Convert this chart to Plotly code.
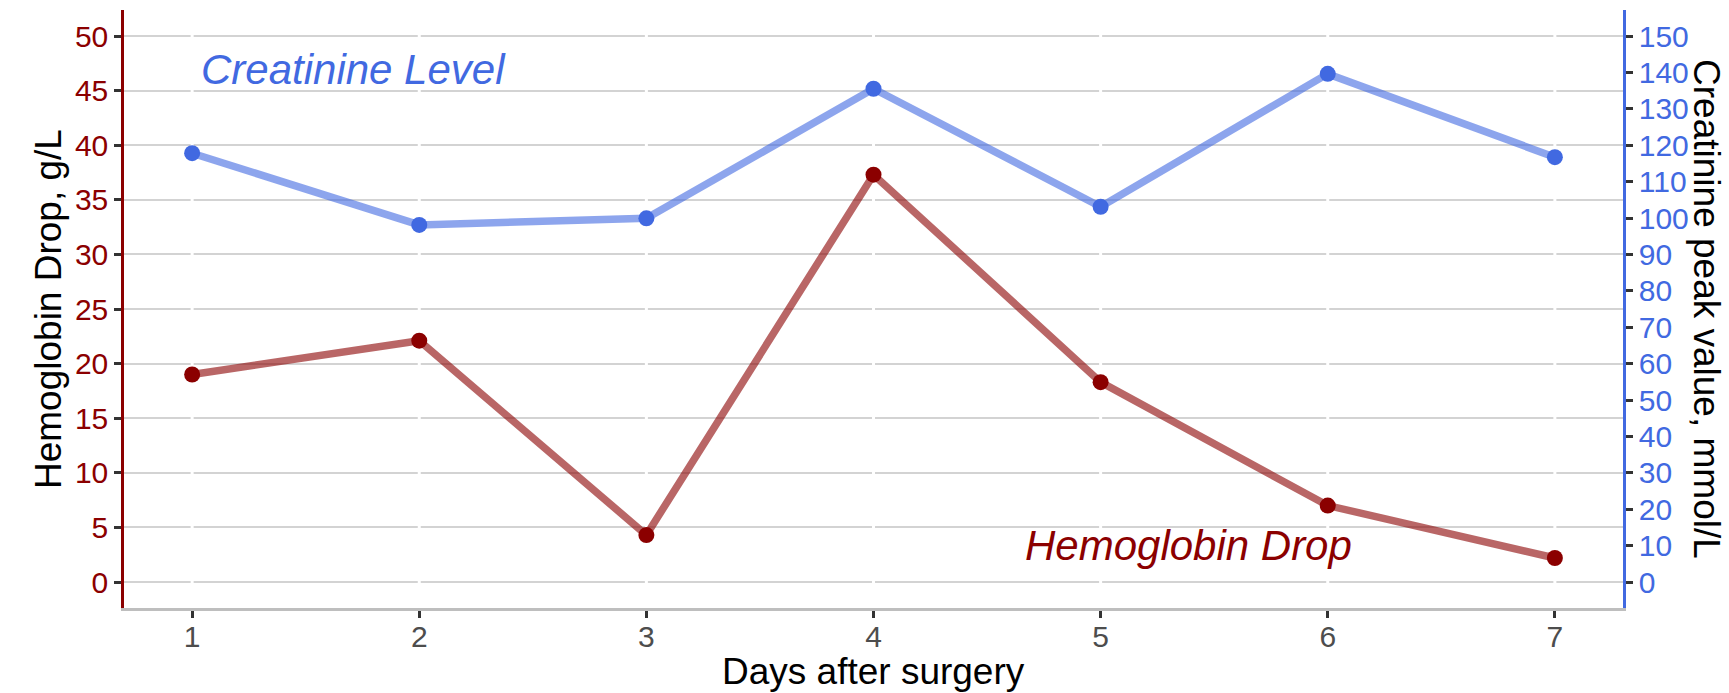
import plotly.graph_objects as go

days = [1, 2, 3, 4, 5, 6, 7]
hemoglobin_drop = [19.0, 22.1, 4.3, 37.3, 18.3, 7.0, 2.2]
creatinine_peak = [117.8, 98.1, 99.9, 135.5, 103.1, 139.6, 116.7]

left_ticks = list(range(0, 51, 5))
right_ticks = list(range(0, 151, 10))

y_range = [-2.381, 52.381]
y2_range = [-7.143, 157.143]
x_range = [0.7, 7.3]

RED = "#8B0000"
BLUE = "#4169E1"
FONT = "Liberation Sans, Arial, sans-serif"

fig = go.Figure()

vx, vy = [], []
for d in days:
    vx += [d, d, None]
    vy += [y_range[0], y_range[1], None]
fig.add_trace(go.Scatter(x=vx, y=vy, mode="lines", line=dict(color="white", width=3),
                         hoverinfo="skip", showlegend=False))

fig.add_trace(go.Scatter(x=days, y=hemoglobin_drop, mode="lines",
                         line=dict(color="rgba(139,0,0,0.6)", width=7.5),
                         showlegend=False, name="Hemoglobin Drop"))
fig.add_trace(go.Scatter(x=days, y=hemoglobin_drop, mode="markers",
                         marker=dict(color=RED, size=16),
                         showlegend=False, name="Hemoglobin Drop"))
fig.add_trace(go.Scatter(x=days, y=creatinine_peak, mode="lines", yaxis="y2",
                         line=dict(color="rgba(65,105,225,0.6)", width=7.5),
                         showlegend=False, name="Creatinine Level"))
fig.add_trace(go.Scatter(x=days, y=creatinine_peak, mode="markers", yaxis="y2",
                         marker=dict(color=BLUE, size=16),
                         showlegend=False, name="Creatinine Level"))

fig.update_layout(
    width=1729, height=693, autosize=False,
    margin=dict(l=124, r=106, t=10, b=85),
    paper_bgcolor="white", plot_bgcolor="white",
    font=dict(family=FONT),
    xaxis=dict(range=x_range, tickvals=days, ticktext=[str(d) for d in days],
               showgrid=False, zeroline=False,
               showline=True, linecolor="#BEBEBE", linewidth=2.5,
               ticks="outside", ticklen=7, tickwidth=2.5, tickcolor="#333333",
               tickfont=dict(size=30, color="#4D4D4D", family=FONT),
               ticklabelstandoff=-7),
    yaxis=dict(range=y_range, tickvals=left_ticks, showgrid=True,
               gridcolor="#D3D3D3", gridwidth=1.6, zeroline=False,
               showline=True, linecolor=RED, linewidth=2.5,
               ticks="outside", ticklen=7, tickwidth=2.5, tickcolor="#333333",
               tickfont=dict(size=30, color=RED, family=FONT)),
    yaxis2=dict(range=y2_range, tickvals=right_ticks, overlaying="y", side="right",
                showgrid=False, zeroline=False,
                showline=True, linecolor=BLUE, linewidth=2.5,
                ticks="outside", ticklen=7, tickwidth=2.5, tickcolor="#333333",
                tickfont=dict(size=30, color=BLUE, family=FONT)),
)

fig.add_annotation(text="Creatinine Level", x=1.03, y=46.9, xref="x", yref="y",
                   xanchor="left", yanchor="middle", showarrow=False,
                   font=dict(size=42, color=BLUE, style="italic", family=FONT))
fig.add_annotation(text="Hemoglobin Drop", x=4.66, y=3.3, xref="x", yref="y",
                   xanchor="left", yanchor="middle", showarrow=False,
                   font=dict(size=42, color=RED, style="italic", family=FONT))

fig.add_annotation(text="Hemoglobin Drop, g/L", x=-0.0507, y=0.5, xref="paper", yref="paper",
                   xanchor="center", yanchor="middle", textangle=-90, showarrow=False,
                   font=dict(size=37, color="black", family=FONT))
fig.add_annotation(text="Creatinine peak value, mmol/L", x=1.056, y=0.5, xref="paper", yref="paper",
                   xanchor="center", yanchor="middle", textangle=90, showarrow=False,
                   font=dict(size=37, color="black", family=FONT))
fig.add_annotation(text="Days after surgery", x=0.5, y=-0.107, xref="paper", yref="paper",
                   xanchor="center", yanchor="middle", showarrow=False,
                   font=dict(size=37, color="black", family=FONT))

fig.write_html("out.html", config={"displayModeBar": False},
               post_script="document.body.style.margin='0px';")
